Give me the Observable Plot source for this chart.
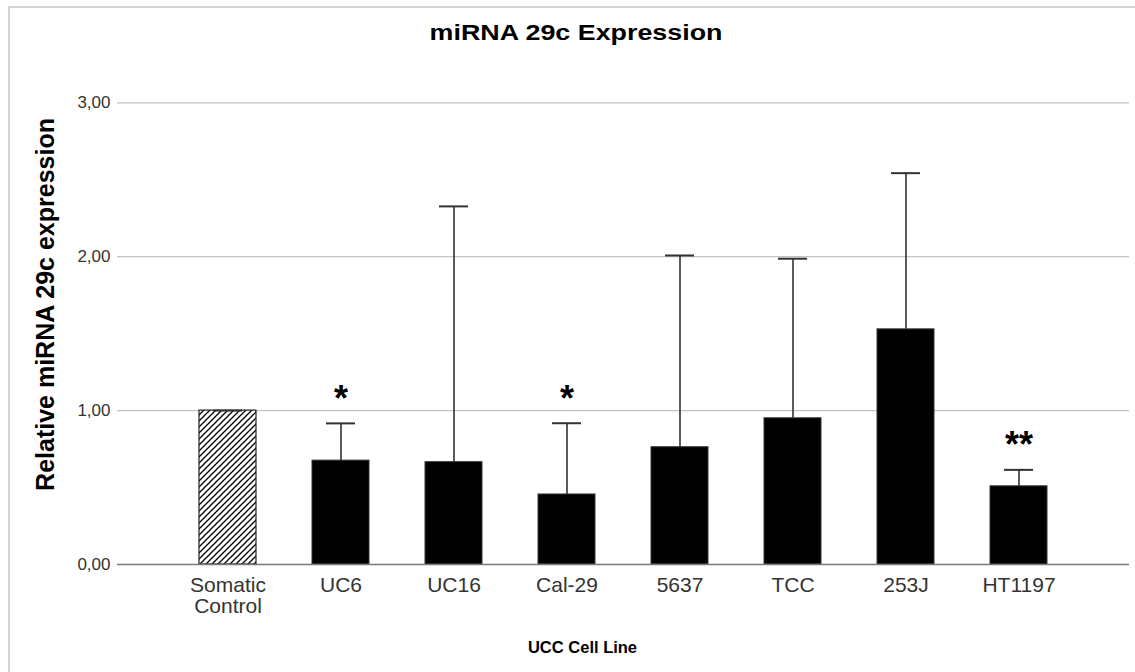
<!DOCTYPE html>
<html>
<head>
<meta charset="utf-8">
<script src="https://cdn.jsdelivr.net/npm/d3@7"></script>
<script src="https://cdn.jsdelivr.net/npm/@observablehq/plot@0.6"></script>
<style>
  body { margin: 0; background: #fff; font-family: "Liberation Sans", Arial, sans-serif; }
  #wrap { position: relative; width: 1135px; height: 672px; overflow: hidden; background: #fff; }
  #border { position: absolute; left: 8px; top: 6px; width: 1300px; height: 900px;
            border-top: 2px solid #d4d4d4; border-left: 2px solid #d4d4d4; }
  #title { position: absolute; left: 576px; top: 33px; white-space: nowrap;
           font: bold 22px "Liberation Sans", Arial, sans-serif; color: #000;
           transform: translate(-50%, -50%) scaleX(1.22); }
  #chart { position: absolute; left: 0; top: 50px; }
</style>
</head>
<body>
<div id="wrap">
  <div id="border"></div>
  <div id="title">miRNA 29c Expression</div>
  <div id="chart"></div>
</div>
<script>
// ---- data ----
const categories = ["Somatic\nControl", "UC6", "UC16", "Cal-29", "5637", "TCC", "253J", "HT1197"];
const means      = [1.00, 0.675, 0.665, 0.455, 0.762, 0.950, 1.528, 0.508];
const uppers     = [1.00, 0.917, 2.327, 0.918, 2.008, 1.987, 2.543, 0.615];
const stars      = ["", "*", "", "*", "", "", "", "**"];
const yTicks     = [0, 1, 2, 3];
const titleText  = "miRNA 29c Expression";
const xLabel     = "UCC Cell Line";
const yLabel     = "Relative miRNA 29c expression";

const data = categories.map((c, i) => ({cat: c, mean: means[i], upper: uppers[i], star: stars[i]}));
const control = categories[0];

const plot = Plot.plot({
  width: 1135,
  height: 622,
  marginLeft: 117,
  marginRight: 6,
  marginTop: 0,
  marginBottom: 108,
  style: {fontFamily: "'Liberation Sans', Arial, sans-serif", background: "transparent", overflow: "visible"},
  x: {type: "band", domain: categories, paddingInner: 0.5, paddingOuter: 0.69},
  y: {domain: [0, 3.34]},
  marks: [
    Plot.gridY({ticks: [1, 2, 3], stroke: "#c2c2c2", strokeOpacity: 1, strokeWidth: 1.3}),
    Plot.barY(data, {filter: d => d.cat === control, x: "cat", y: "mean", fill: "url(#hatch)", stroke: "#222", strokeWidth: 1.2}),
    Plot.barY(data, {filter: d => d.cat !== control, x: "cat", y: "mean", fill: "#000", stroke: "#333", strokeWidth: 1}),
    Plot.ruleX(data, {x: "cat", y1: "mean", y2: "upper", stroke: "#333", strokeWidth: 1.6}),
    Plot.tickY(data, {x: "cat", y: "upper", stroke: "#333", strokeWidth: 2, insetLeft: 14, insetRight: 14}),
    Plot.text(data, {filter: d => d.star, x: "cat", y: "upper", text: "star", fontSize: 36, fontWeight: "bold", fill: "#000", dy: -24}),
    Plot.ruleY([0], {stroke: "#7a7a7a", strokeWidth: 1.5}),
    Plot.axisY({ticks: yTicks, tickFormat: d => d.toFixed(2).replace(".", ","), tickSize: 0, tickPadding: 7,
                fontSize: 17, fill: "#333", stroke: "#7a7a7a", strokeWidth: 1.5, line: true, label: null}),
    Plot.axisX({tickSize: 0, tickPadding: 13, fontSize: 21, fill: "#333", label: null}),
    Plot.text([yLabel], {frameAnchor: "left", text: d => d, rotate: -90, dx: -72, dy: -3,
                         textAnchor: "middle", lineAnchor: "middle",
                         fontSize: 25, fontWeight: "bold", fill: "#000"}),
    Plot.text([xLabel], {frameAnchor: "bottom", text: d => d, dx: -41, dy: 83,
                         textAnchor: "middle", lineAnchor: "middle",
                         fontSize: 16.5, fontWeight: "bold", fill: "#000"})
  ]
});

// hatch pattern for the control bar
const defs = d3.select(plot).insert("defs", ":first-child");
const pat = defs.append("pattern").attr("id", "hatch").attr("patternUnits", "userSpaceOnUse")
  .attr("width", 6).attr("height", 6);
pat.append("rect").attr("width", 6).attr("height", 6).attr("fill", "#fff");
pat.append("path").attr("d", "M-1,1 l2,-2 M0,6 l6,-6 M5,7 l2,-2")
  .attr("stroke", "#000").attr("stroke-width", 1.3);

document.getElementById("chart").appendChild(plot);
</script>
</body>
</html>
